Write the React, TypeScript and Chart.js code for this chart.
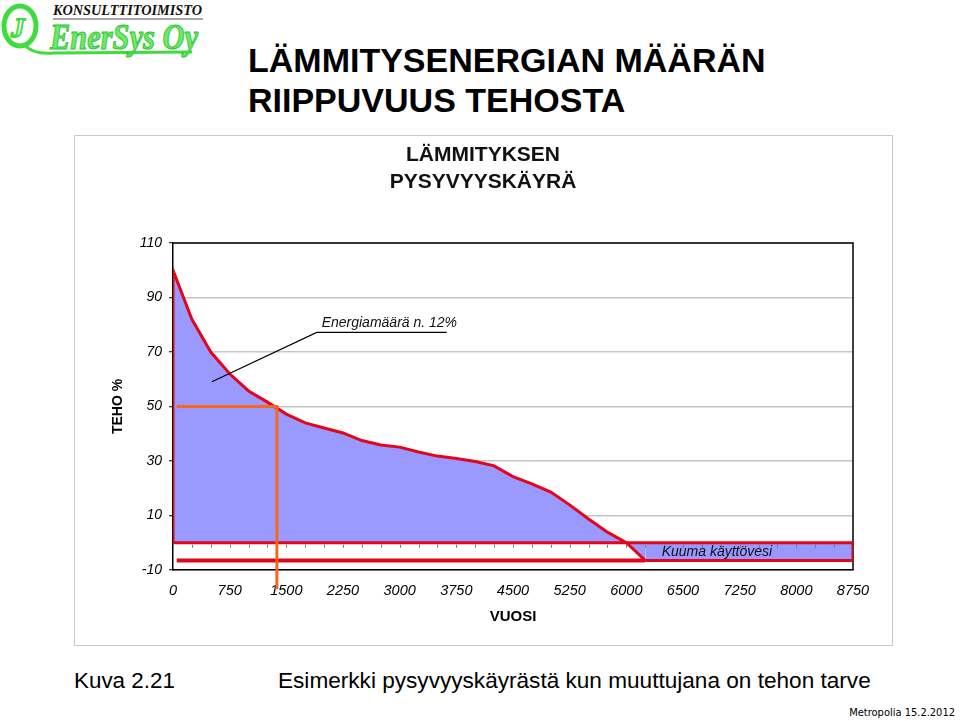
import React, { useEffect, useRef } from 'react';
import { Chart, registerables } from 'chart.js';

Chart.register(...registerables);

// ---- data ----
const xLabels = ['0', '750', '1500', '2250', '3000', '3750', '4500', '5250', '6000', '6500', '7250', '8000', '8750'];
const stepsPerLabel = 3; // minor categories between labelled ticks
const categoryCount = (xLabels.length - 1) * stepsPerLabel; // 36 intervals

const yMin = -10;
const yMax = 110;
const yStep = 20;

// heating power duration curve, % of max power, one value per minor category
const curveValues = [
  100, 82, 70, 62, 55.7, 51.6, 47.2, 44, 42.1, 40.3, 37.5, 35.9, 35.1,
  33.3, 31.8, 30.9, 29.8, 28.2, 24.3, 21.6, 18.6, 13.9, 8.7, 3.9, 0, -6.5,
];

// domestic hot water band (Kuuma käyttövesi)
const hotWaterStart = 25;
const hotWaterEnd = 36;
const hotWaterLevel = -6.5;

// orange reading line: 50 % power
const markerPower = 50;
const markerIndex = 5.5;
const markerStart = 0.2;
const markerBottom = -17;

const annotationText = 'Energiamäärä n. 12%';
const hotWaterText = 'Kuuma käyttövesi';

const RED = '#e3061b';
const FILL = '#9999ff';
const ORANGE = '#f8661c';
const FONT = '"Liberation Sans", Arial, Helvetica, sans-serif';

const frameAndNotes = {
  id: 'frameAndNotes',
  beforeDatasetsDraw(chart: any) {
    const { ctx, chartArea: a } = chart;
    ctx.save();
    ctx.strokeStyle = '#000';
    ctx.lineWidth = 1.5;
    ctx.beginPath();
    ctx.moveTo(a.left, a.top);
    ctx.lineTo(a.right, a.top);
    ctx.lineTo(a.right, a.bottom);
    ctx.stroke();
    ctx.restore();
  },
  afterDatasetsDraw(chart: any) {
    const { ctx } = chart;
    const xs = chart.scales.x;
    const ys = chart.scales.y;
    ctx.save();
    // minor category ticks along the zero line
    const y0 = ys.getPixelForValue(0);
    ctx.strokeStyle = '#777';
    ctx.lineWidth = 1;
    for (let i = 1; i < categoryCount; i++) {
      const x = Math.round(xs.getPixelForValue(i)) + 0.5;
      ctx.beginPath();
      ctx.moveTo(x, y0 + 2);
      ctx.lineTo(x, y0 + 5);
      ctx.stroke();
    }
    // leader line for energy annotation
    ctx.strokeStyle = '#000';
    ctx.lineWidth = 1.2;
    ctx.beginPath();
    ctx.moveTo(xs.getPixelForValue(2.06), ys.getPixelForValue(59.1));
    ctx.lineTo(xs.getPixelForValue(7.61), ys.getPixelForValue(77.2));
    ctx.lineTo(xs.getPixelForValue(14.49), ys.getPixelForValue(77.2));
    ctx.stroke();
    ctx.fillStyle = '#111';
    ctx.font = `italic 14px ${FONT}`;
    ctx.textBaseline = 'bottom';
    ctx.textAlign = 'left';
    ctx.fillText(annotationText, xs.getPixelForValue(7.87), ys.getPixelForValue(77.2) - 2);
    ctx.font = `italic 14px ${FONT}`;
    ctx.textBaseline = 'middle';
    ctx.fillText(hotWaterText, xs.getPixelForValue(25.87), ys.getPixelForValue(-3.6));
    ctx.restore();
  },
};

function DurationChart() {
  const ref = useRef<HTMLCanvasElement | null>(null);
  useEffect(() => {
    if (!ref.current) return;
    const curveData = [{ x: 0, y: 0 }, ...curveValues.map((y, i) => ({ x: i, y }))];
    const chart = new Chart(ref.current, {
      type: 'line',
      data: {
        datasets: [
          {
            label: 'Lämmitys',
            data: curveData,
            borderColor: RED,
            borderWidth: 3,
            backgroundColor: FILL,
            fill: 'origin',
            pointRadius: 0,
            tension: 0,
            order: 6,
          },
          {
            label: 'Kuuma käyttövesi',
            data: [
              { x: hotWaterStart, y: hotWaterLevel },
              { x: hotWaterEnd, y: hotWaterLevel },
              { x: hotWaterEnd, y: 0 },
            ],
            borderColor: RED,
            borderWidth: 3,
            backgroundColor: FILL,
            fill: 'origin',
            pointRadius: 0,
            order: 5,
          },
          {
            label: 'zero',
            data: [
              { x: 0, y: 0 },
              { x: categoryCount, y: 0 },
            ],
            borderColor: RED,
            borderWidth: 3,
            pointRadius: 0,
            fill: false,
            order: 4,
          },
          {
            label: 'base',
            data: [
              { x: markerStart, y: hotWaterLevel },
              { x: hotWaterStart, y: hotWaterLevel },
            ],
            borderColor: RED,
            borderWidth: 4,
            pointRadius: 0,
            fill: false,
            order: 3,
          },
          {
            label: 'marker',
            data: [
              { x: markerStart, y: markerPower },
              { x: markerIndex, y: markerPower },
              { x: markerIndex, y: markerBottom },
            ],
            borderColor: ORANGE,
            borderWidth: 3,
            pointRadius: 0,
            fill: false,
            clip: false as any,
            order: 1,
          },
        ],
      },
      options: {
        animation: false,
        responsive: false,
        events: [],
        layout: { padding: 0 },
        plugins: {
          legend: { display: false },
          tooltip: { enabled: false },
          title: {
            display: true,
            text: ['LÄMMITYKSEN', 'PYSYVYYSKÄYRÄ'],
            color: '#111',
            font: { family: FONT, size: 21, weight: 'bold', lineHeight: 1.286 },
            padding: { top: 5.5, bottom: 47.5 },
          },
        },
        scales: {
          x: {
            type: 'linear',
            min: 0,
            max: categoryCount,
            afterFit: (s: any) => {
              s.height = 74;
            },
            ticks: {
              stepSize: stepsPerLabel,
              autoSkip: false,
              maxRotation: 0,
              padding: 12,
              color: '#000',
              font: { family: FONT, size: 14.5, style: 'italic' },
              callback: (v: any) => {
                const n = Number(v);
                return n % stepsPerLabel === 0 ? xLabels[n / stepsPerLabel] : '';
              },
            },
            grid: { display: true, drawOnChartArea: false, drawTicks: false },
            border: { display: true, color: '#000', width: 1.5 },
            title: {
              display: true,
              text: 'VUOSI',
              color: '#000',
              font: { family: FONT, size: 15, weight: 'bold' },
              padding: { top: 0, bottom: 18 },
            },
          },
          y: {
            type: 'linear',
            min: yMin,
            max: yMax,
            afterFit: (s: any) => {
              s.width = 98;
            },
            ticks: {
              stepSize: yStep,
              padding: 7,
              color: '#000',
              font: { family: FONT, size: 14, style: 'italic' },
            },
            grid: {
              color: '#c6c6c6',
              lineWidth: 1.5,
              drawTicks: true,
              tickLength: 4,
              tickColor: '#000',
              tickWidth: 1,
            },
            border: { display: true, color: '#000', width: 1.5 },
            title: {
              display: true,
              text: 'TEHO %',
              color: '#000',
              font: { family: FONT, size: 14, weight: 'bold' },
              padding: { top: 35, bottom: 0 },
            },
          },
          // empty right-hand gutter so the title stays centred in the box
          gutter: {
            type: 'linear',
            position: 'right',
            display: true,
            afterFit: (s: any) => {
              s.width = 38;
            },
            ticks: { display: false },
            grid: { display: false, drawTicks: false },
            border: { display: false },
          },
        },
      },
      plugins: [frameAndNotes],
    } as any);
    return () => chart.destroy();
  }, []);
  return (
    <canvas
      ref={ref}
      width={816}
      height={508}
      style={{ position: 'absolute', left: 75, top: 136, width: 816, height: 508 }}
    />
  );
}

function Logo() {
  const green = '#3edc3e';
  return (
    <svg width={215} height={62} style={{ position: 'absolute', left: 0, top: 0 }}>
      <text
        x={53}
        y={15}
        fontFamily='"Liberation Serif", "Times New Roman", serif'
        fontStyle="italic"
        fontWeight="bold"
        fontSize={15}
        fill="#111"
        textLength={149}
        lengthAdjust="spacingAndGlyphs"
      >
        KONSULTTITOIMISTO
      </text>
      <line x1={53} y1={19} x2={203} y2={19} stroke="#888" strokeWidth={1.5} />
      <ellipse cx={20} cy={26} rx={16} ry={20} fill="none" stroke={green} strokeWidth={5} />
      <text
        x={11}
        y={37}
        fontFamily='"Liberation Serif", "Times New Roman", serif'
        fontStyle="italic"
        fontWeight="bold"
        fontSize={27}
        fill="#fff"
        stroke={green}
        strokeWidth={1.8}
      >
        J
      </text>
      <path d="M 24 44 Q 32 55 54 53 L 192 52" fill="none" stroke={green} strokeWidth={3} />
      <text
        x={50}
        y={49}
        fontFamily='"Liberation Serif", "Times New Roman", serif'
        fontStyle="italic"
        fontWeight="bold"
        fontSize={35}
        fill="#6ee86e"
        stroke="#2cc82c"
        strokeWidth={1}
        textLength={148}
        lengthAdjust="spacingAndGlyphs"
      >
        EnerSys Oy
      </text>
    </svg>
  );
}

export default function App() {
  return (
    <div
      style={{
        position: 'absolute',
        left: 0,
        top: 0,
        width: 960,
        height: 721,
        background: '#fff',
        fontFamily: FONT,
        overflow: 'hidden',
      }}
    >
      <Logo />
      <div
        style={{
          position: 'absolute',
          left: 248,
          top: 40,
          fontSize: 34,
          fontWeight: 'bold',
          lineHeight: '40px',
          color: '#000',
          whiteSpace: 'nowrap',
        }}
      >
        LÄMMITYSENERGIAN MÄÄRÄN
        <br />
        RIIPPUVUUS TEHOSTA
      </div>
      <div
        style={{
          position: 'absolute',
          left: 74,
          top: 135,
          width: 819,
          height: 511,
          boxSizing: 'border-box',
          border: '1px solid #c8c8c8',
        }}
      />
      <DurationChart />
      <div style={{ position: 'absolute', left: 74, top: 668, fontSize: 22.4, lineHeight: '26px', whiteSpace: 'nowrap' }}>
        Kuva 2.21
      </div>
      <div style={{ position: 'absolute', left: 278, top: 668, fontSize: 22.6, lineHeight: '26px', whiteSpace: 'nowrap' }}>
        Esimerkki pysyvyyskäyrästä kun muuttujana on tehon tarve
      </div>
      <div
        style={{
          position: 'absolute',
          right: 5,
          top: 706,
          fontSize: 11,
          lineHeight: '14px',
          whiteSpace: 'nowrap',
          fontFamily: '"Liberation Sans Narrow", "DejaVu Sans Condensed", sans-serif',
        }}
      >
        Metropolia 15.2.2012
      </div>
    </div>
  );
}
